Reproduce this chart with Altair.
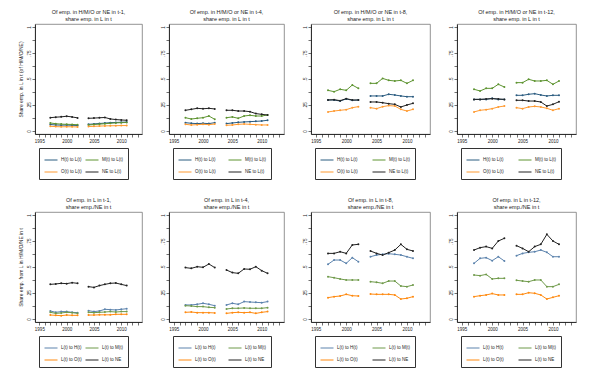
import altair as alt
import pandas as pd

YEARS = [1997, 1998, 1999, 2000, 2001, 2002, 2004, 2005, 2006, 2007, 2008, 2009, 2010, 2011]

TOP_LABELS = ["H(t) to L(t)", "M(t) to L(t)", "O(t) to L(t)", "NE to L(t)"]
BOT_LABELS = ["L(t) to H(t)", "L(t) to M(t)", "L(t) to O(t)", "L(t) to NE"]
TOP_COLORS = ["#2b5c80", "#5e9431", "#ff9a30", "#222222"]
BOT_COLORS = ["#5c83ad", "#6f9a4a", "#ff8a10", "#222222"]
LAGS = ["t-1", "t-4", "t-8", "t-12"]

# top row: of emp. in H/M/O or NE in t-k, share emp. in L in t
T1_H = [0.062, 0.058, 0.056, 0.057, 0.055, 0.053, 0.064, 0.068, 0.072, 0.076, 0.080, 0.082, 0.084, 0.086]
T1_M = [0.077, 0.070, 0.066, 0.064, 0.063, 0.060, 0.058, 0.062, 0.066, 0.070, 0.074, 0.078, 0.080, 0.082]
T1_O = [0.045, 0.042, 0.040, 0.041, 0.040, 0.039, 0.043, 0.045, 0.047, 0.049, 0.050, 0.051, 0.052, 0.052]
T1_NE = [0.128, 0.133, 0.136, 0.142, 0.135, 0.126, 0.122, 0.124, 0.127, 0.130, 0.116, 0.110, 0.106, 0.103]

T4_H = [0.080, 0.074, 0.071, 0.074, 0.071, 0.080, 0.071, 0.077, 0.083, 0.087, 0.090, 0.093, 0.096, 0.103]
T4_M = [0.128, 0.115, 0.122, 0.128, 0.144, 0.112, 0.128, 0.135, 0.122, 0.144, 0.151, 0.144, 0.144, 0.154]
T4_O = [0.064, 0.058, 0.061, 0.064, 0.061, 0.067, 0.055, 0.058, 0.064, 0.067, 0.064, 0.061, 0.058, 0.058]
T4_NE = [0.199, 0.208, 0.218, 0.214, 0.218, 0.212, 0.199, 0.199, 0.192, 0.192, 0.186, 0.167, 0.160, 0.154]

T8_H = [0.298, 0.298, 0.288, 0.308, 0.295, 0.298, 0.337, 0.337, 0.337, 0.353, 0.346, 0.337, 0.330, 0.330]
T8_M = [0.391, 0.378, 0.401, 0.391, 0.442, 0.410, 0.458, 0.458, 0.506, 0.487, 0.481, 0.487, 0.458, 0.487]
T8_O = [0.183, 0.192, 0.199, 0.205, 0.224, 0.234, 0.224, 0.215, 0.234, 0.244, 0.240, 0.208, 0.192, 0.208]
T8_NE = [0.298, 0.301, 0.292, 0.311, 0.298, 0.298, 0.279, 0.279, 0.272, 0.263, 0.256, 0.231, 0.250, 0.266]

T12_H = [0.304, 0.304, 0.304, 0.314, 0.304, 0.304, 0.343, 0.343, 0.353, 0.359, 0.346, 0.337, 0.343, 0.343]
T12_M = [0.401, 0.385, 0.410, 0.410, 0.449, 0.423, 0.465, 0.465, 0.497, 0.481, 0.481, 0.487, 0.449, 0.481]
T12_O = [0.183, 0.199, 0.205, 0.215, 0.231, 0.240, 0.224, 0.215, 0.231, 0.237, 0.231, 0.218, 0.199, 0.215]
T12_NE = [0.304, 0.304, 0.308, 0.311, 0.308, 0.304, 0.295, 0.295, 0.288, 0.288, 0.279, 0.240, 0.256, 0.282]

# bottom row: of emp. in L in t-k, share emp./NE in t
B1_H = [0.077, 0.064, 0.071, 0.071, 0.064, 0.061, 0.080, 0.071, 0.077, 0.093, 0.090, 0.087, 0.093, 0.099]
B1_M = [0.064, 0.054, 0.058, 0.064, 0.061, 0.054, 0.064, 0.061, 0.064, 0.067, 0.071, 0.067, 0.071, 0.071]
B1_O = [0.038, 0.035, 0.032, 0.038, 0.035, 0.035, 0.038, 0.038, 0.040, 0.040, 0.040, 0.045, 0.045, 0.045]
B1_NE = [0.333, 0.337, 0.343, 0.340, 0.349, 0.343, 0.311, 0.304, 0.321, 0.333, 0.343, 0.346, 0.333, 0.321]

B4_H = [0.135, 0.135, 0.141, 0.151, 0.141, 0.128, 0.135, 0.151, 0.141, 0.167, 0.163, 0.160, 0.157, 0.167]
B4_M = [0.128, 0.125, 0.119, 0.119, 0.112, 0.109, 0.096, 0.103, 0.103, 0.106, 0.103, 0.103, 0.103, 0.109]
B4_O = [0.064, 0.067, 0.061, 0.061, 0.061, 0.058, 0.054, 0.061, 0.064, 0.061, 0.064, 0.054, 0.064, 0.071]
B4_NE = [0.494, 0.487, 0.503, 0.497, 0.529, 0.494, 0.471, 0.446, 0.439, 0.481, 0.478, 0.503, 0.465, 0.439]

B8_H = [0.526, 0.567, 0.567, 0.535, 0.590, 0.551, 0.599, 0.615, 0.622, 0.628, 0.622, 0.615, 0.599, 0.583]
B8_M = [0.407, 0.397, 0.385, 0.375, 0.375, 0.375, 0.359, 0.353, 0.343, 0.365, 0.365, 0.317, 0.311, 0.327]
B8_O = [0.205, 0.215, 0.221, 0.237, 0.224, 0.221, 0.240, 0.237, 0.237, 0.237, 0.231, 0.192, 0.199, 0.215]
B8_NE = [0.631, 0.631, 0.647, 0.631, 0.712, 0.718, 0.654, 0.631, 0.615, 0.638, 0.663, 0.718, 0.670, 0.654]

B12_H = [0.535, 0.583, 0.590, 0.561, 0.599, 0.558, 0.609, 0.631, 0.641, 0.647, 0.663, 0.641, 0.599, 0.599]
B12_M = [0.423, 0.417, 0.429, 0.385, 0.391, 0.391, 0.372, 0.365, 0.359, 0.375, 0.375, 0.311, 0.311, 0.333]
B12_O = [0.215, 0.224, 0.231, 0.244, 0.231, 0.231, 0.237, 0.237, 0.253, 0.247, 0.231, 0.192, 0.208, 0.224]
B12_NE = [0.663, 0.686, 0.696, 0.679, 0.750, 0.776, 0.705, 0.679, 0.647, 0.696, 0.718, 0.814, 0.750, 0.718]

TOP_DATA = [[T1_H, T1_M, T1_O, T1_NE], [T4_H, T4_M, T4_O, T4_NE],
            [T8_H, T8_M, T8_O, T8_NE], [T12_H, T12_M, T12_O, T12_NE]]
BOT_DATA = [[B1_H, B1_M, B1_O, B1_NE], [B4_H, B4_M, B4_O, B4_NE],
            [B8_H, B8_M, B8_O, B8_NE], [B12_H, B12_M, B12_O, B12_NE]]

WIDTHS = [107, 115, 119, 119]
COLPAD = [1, 10, 12, 12]
HEIGHT = 110
FONT = "Liberation Sans"

Y_LABEL_EXPR = ("datum.value == 0 ? '0' : datum.value == 1 ? '1' : "
                "(datum.value * 100) % 25 == 0 ? replace(format(datum.value, '.2~f'), '0.', '.') : ''")


def panel(series_lists, labels, colors, title, width, colpad, ytitle=None):
    rows = []
    for lab, vals in zip(labels, series_lists):
        for yr, v in zip(YEARS, vals):
            rows.append({"year": yr, "value": v, "series": lab,
                         "seg": 1 if yr < 2003 else 2})
    df = pd.DataFrame(rows)
    yaxis_kwargs = dict(values=[i * 0.125 for i in range(9)], labelExpr=Y_LABEL_EXPR,
                        grid=False, labelAngle=270, labelAlign="center",
                        labelBaseline="bottom", labelFontSize=4.5, tickSize=3)
    if ytitle:
        yaxis_kwargs.update(title=ytitle, titleFontSize=5, titleFontWeight="normal",
                            titlePadding=3, titleColor="#222")
    else:
        yaxis_kwargs.update(title=None)
    return alt.Chart(df).mark_line(
        strokeWidth=1,
        point=alt.OverlayMarkDef(size=4, filled=True),
    ).encode(
        x=alt.X("year:Q",
                scale=alt.Scale(domain=[1994.2, 2013.8], nice=False, zero=False),
                axis=alt.Axis(values=list(range(1995, 2014)),
                              labelExpr="datum.value % 5 == 0 ? '' + datum.value : ''",
                              title=None, grid=False, labelFontSize=4.5, tickSize=3,
                              labelFlush=False, labelOverlap=False)),
        y=alt.Y("value:Q",
                scale=alt.Scale(domain=[-0.029, 1.029], nice=False, zero=False),
                axis=alt.Axis(**yaxis_kwargs)),
        color=alt.Color("series:N",
                        scale=alt.Scale(domain=labels, range=colors),
                        legend=alt.Legend(orient="none", legendX=4, legendY=HEIGHT + 14,
                                          direction="horizontal",
                                          columns=2, title=None, symbolType="stroke",
                                          symbolSize=169, symbolStrokeWidth=1,
                                          labelFontSize=4.5, labelOffset=3,
                                          rowPadding=3, columnPadding=colpad,
                                          padding=5, strokeColor="#333",
                                          fillColor="white", labelColor="#222")),
        detail="seg:N",
        order="year:Q",
    ).properties(
        width=width, height=HEIGHT,
        title=alt.TitleParams(text=title, fontSize=5.5, fontWeight="normal",
                              lineHeight=6.5, offset=2, anchor="middle", color="#222"),
    )


top_panels = []
bot_panels = []
for i, lag in enumerate(LAGS):
    top_panels.append(panel(TOP_DATA[i], TOP_LABELS, TOP_COLORS,
                            [f"Of emp. in H/M/O or NE in {lag},", "share emp. in L in t"],
                            WIDTHS[i], COLPAD[i],
                            "Share emp. in L in t (of H/M/O/NE)" if i == 0 else None))
    bot_panels.append(panel(BOT_DATA[i], BOT_LABELS, BOT_COLORS,
                            [f"Of emp. in L in {lag},", "share emp./NE in t"],
                            WIDTHS[i], COLPAD[i],
                            "Share emp. from L in H/M/O/NE in t" if i == 0 else None))

top_row = alt.hconcat(*top_panels, spacing=16).resolve_scale(color="independent")
bot_row = alt.hconcat(*bot_panels, spacing=16).resolve_scale(color="independent")

chart = alt.vconcat(top_row, bot_row, spacing=17).resolve_scale(
    color="independent"
).properties(
    padding={"left": 9, "top": 1, "right": 0, "bottom": 0},
    background="white",
).configure(
    font=FONT,
).configure_view(
    stroke="#777", strokeWidth=0.8,
).configure_axis(
    domainColor="#111", domainWidth=0.8, tickColor="#111", tickWidth=0.6,
    labelColor="#222", labelPadding=1,
)

chart.save("out.html", embed_options={"renderer": "svg", "actions": False})
